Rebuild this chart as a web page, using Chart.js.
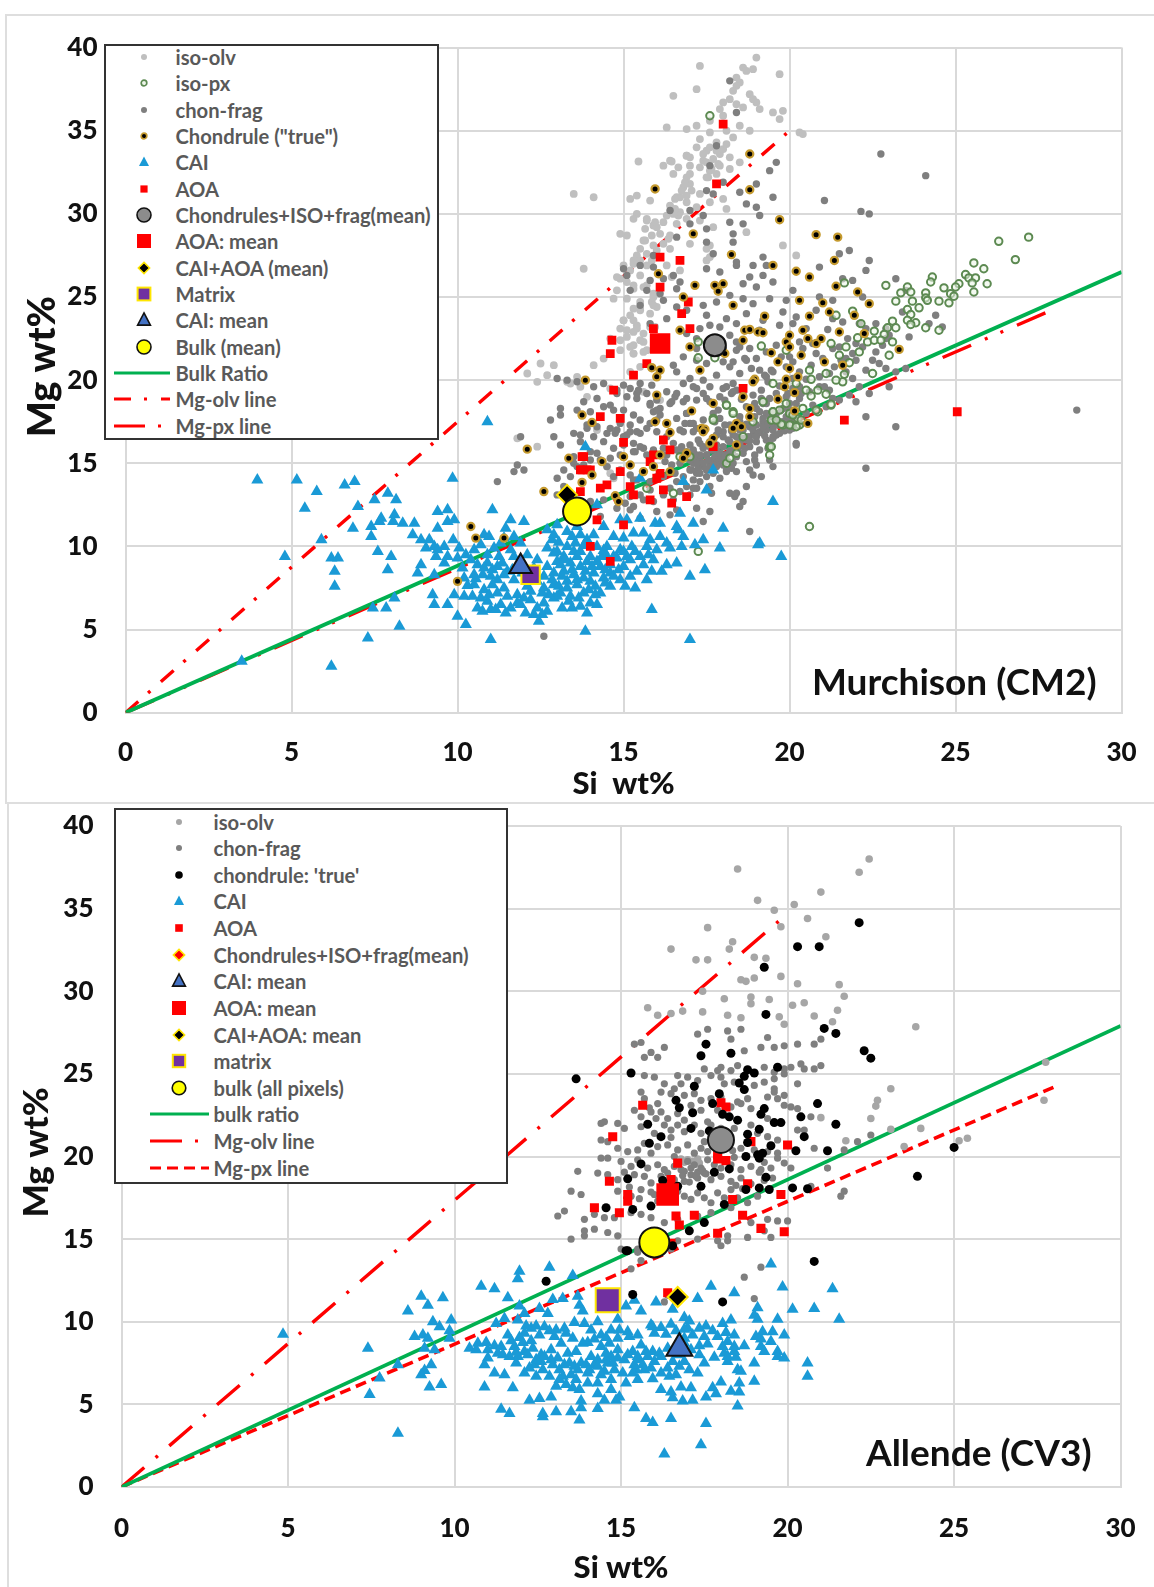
<!DOCTYPE html>
<html><head><meta charset="utf-8">
<script src="https://cdn.jsdelivr.net/npm/chart.js@4/dist/chart.umd.min.js"></script>
<style>
html,body{margin:0;padding:0;background:#fff}
#page{position:relative;width:1154px;height:1587px;overflow:hidden;filter:blur(.45px)}
canvas{position:absolute;left:0}
.frame{position:absolute;border:2.5px solid #dedede;box-sizing:border-box}
.legend{position:absolute;background:#fff;border:2.5px solid #333;box-sizing:border-box;z-index:3}
.row{position:absolute;font:700 20.2px Lato,sans-serif;color:#595959;white-space:nowrap;line-height:20px}
.legend svg{position:absolute;overflow:visible}
.note{position:absolute;font:700 37px Lato,sans-serif;color:#111;white-space:nowrap;z-index:2}
</style></head><body>
<div id="page">
<div class="frame" style="left:5px;top:14px;width:1160px;height:790px"></div>
<div class="frame" style="left:7px;top:802px;width:1160px;height:800px"></div>
<canvas id="c1" width="1154" height="803" style="top:0"></canvas>
<canvas id="c2" width="1154" height="784" style="top:803px"></canvas>
<div class="note" style="left:812px;top:658px">Murchison (CM2)</div>
<div class="note" style="left:866px;top:1429px">Allende (CV3)</div>
<div class="legend" id="l1" style="left:104px;top:44px;width:335px;height:396px"></div>
<div class="legend" id="l2" style="left:114px;top:808px;width:394px;height:376px"></div>
</div>
<script>
const xTicks=[0,5,10,15,20,25,30], yTicks=[0,5,10,15,20,25,30,35,40];

// ---- Murchison (CM2) values, flat x,y lists ----
const isoOlvTop=[19,39.4,17.3,38.9,18.6,38.8,18.9,38.7,18.7,38.6,19.7,38.4,18.4,38.2,18.5,37.9,17.2,37.5,18.4,37.7,18.3,37.4,16.5,37.1,18.8,37.2,18.9,36.9,18.2,36.9,18,36.7,18.4,36.6,18.6,36.4,19,36.7,19.1,36.3,19.5,36.1,19.8,36.2,19.7,35.7,18,35.9,17.9,36.3,17.6,35.6,17.2,35.3,16.3,35.2,16.9,35.1,18.5,35.3,18.1,35,18.8,35,20.3,34.9,20.4,34.8,17.3,34.5,17.6,34.9,17.8,34.3,18.3,34.6,18,33.9,18.1,34.2,17.5,33.8,17.2,34,17.7,33.3,17.9,33.6,18.2,33.4,17.4,33.2,16.9,33.5,16.4,33.2,17,32.9,16.2,32.9,17.6,32.6,17.9,32.9,18.2,32.7,18.5,33.1,17.5,32.2,17.8,32.4,16.5,32.4,16.9,32.2,14.1,31,15.2,30.9,15.4,31.1,13.5,31.2,16.8,31.6,17,31.8,17.3,31.2,16.6,31,16.9,30.7,16.4,30.5,17.2,30.4,17.6,30.7,18,30.9,18.1,30.3,16.7,30.1,16.3,29.9,16.9,29.7,17.3,29.6,15.4,30,15.7,29.7,15.9,29.3,16.2,29.5,16.6,29.4,17.7,29.2,18.7,28.9,19.8,28.1,20.2,27.5,15.6,28.4,15.9,28.1,16.2,28.2,15.1,28.7,16.4,28.7,17,28.2,17.6,28.1,15.4,27.5,15.7,27.6,16,27.8,16.4,27.9,15,26.9,15.3,27.2,13.8,26.7,14.9,26.1,15.2,26.6,15.5,26.3,16.3,26.9,16.7,26.6,17.5,27.2,15.1,25.9,14.8,25.4,15.3,25.5,15.7,25.7,15.9,25,15.1,24.9,15.5,24.7,14.7,24.9,16,24.4,15.5,24.2,15.8,24,15.2,23.9,15,23.6,15.4,23.3,14.9,23.1,15.3,22.9,15.6,22.8,15.8,23.2,14.6,22.5,15.1,22.6,15.3,22.1,15.6,22.3,14.9,21.8,15.3,21.6,15.7,21.8,14.1,20.9,14.4,21.3,13.7,19.6,13.3,19.9,13.4,19.8,13.6,20.2,15.2,20.5,15.5,20.8,12.1,20.4,12.5,21,12.9,20.9,12.7,20.3,12.4,19.9,13.9,19,15.6,19.3,16.1,18.8,11.8,16.5,12.4,16,14.6,19.5,14.2,17,14.5,14.8,14.6,14.4,14.7,14.1];
const isoOlvTopExtra=[15.45,33.15,16.45,33.15,16.65,32.8,16.9,33.5,17,33.4,17.4,33.6,17.6,34,17.8,33.8,17.5,33.1,17.3,32.8,17.65,32.7,17.85,33,17.55,32.2,17,32.4,16.85,31.9,16.7,31,16.55,30.9,16.9,31.1,16.75,31.4,17.05,31.4,16.55,30.3,16.65,29.9,16.5,30,15.8,30.8,15.3,29.7,15.7,29.6,15.95,29.5,16,29.2,15.65,29.1,15.85,28.7,15.65,28.4,16.1,28.8,16.35,28.5,15.5,27.9,14.9,28.8,15.5,27.2,15.85,27.2,16.45,26.2,15.7,26.9,15.3,27,14.8,26.2,15.3,25.7,15.6,25.6,15.9,25.2,15.85,24.7,15.5,24.3,15.3,24.3,15.9,24.5,15,23.6,15.3,23.6,15.1,23,15.4,23.1,14.9,22.4,15.2,22,15.5,22.4,15.3,21.6,15.6,21.7,15.95,23.2,17.5,27.9,17.6,27.4];
const isoPxTop=[27.2,28.6,26.3,28.35,26.8,27.25,25.55,27.05,25.85,26.7,25.3,26.35,25.4,26.15,25.6,26.15,25.5,25.85,25.95,25.8,25.55,25.3,24.3,26.2,24.25,25.9,25.1,25.8,25,25.6,24.65,25.55,24.85,25.2,24.95,25.05,24.5,24.75,24.8,24.65,24.1,25.25,24.1,24.95,24.15,24.8,23.55,25.6,23.35,25.25,23.65,25.3,23.7,24.75,23.2,24.75,22.9,25.7,23.9,24.35,23.55,24.25,23.65,23.95,23.55,23.6,23.8,23.45,23.65,23.35,24.1,23.15,24.5,23,23.1,23.55,22.95,23.15,23.2,23.15,22.55,22.95,22.85,22.75,22.05,22.55,22.35,22.3,22.55,22.4,22.75,22.4,23.1,22.3,22.1,21.7,23,21.5,22.5,20.4,21.65,25.85,21.4,23.9,22.15,23.4,21.9,24.15,21.25,22.2,21.7,22,21.5,21.5,21.8,21.05,21.65,20.35,21.6,19.9,21.4,20,21.1,20.4,20.6,20.6,20.65,20.05,17.6,35.9,17.25,22.3,17.25,21.35,17.75,21.35,19.15,22.05,19.9,21.8,20.5,19.4,20.85,19.4,21.1,19.15,20.65,19.05,19.5,19.8,20.2,19.8,19.2,18.7,19.5,18.1,19.7,18.2,20,18,20.25,17.7,18.3,18.1,18.1,18.5,17.7,17.7,19.8,17.3,20.05,17.3,20.3,17.3,19.45,17.6,20.85,18.1,21.25,18.5,16.5,13.2,16.7,15.4,17,15.4,18.1,15,18.2,15.3,19.4,16,19.45,16,19.4,15.5,18.3,18,17.7,17.6,18.1,18.5,19.2,18.7,19.5,18.1,19.75,17.35,20,17.3,20.2,17.2,20.35,17.6,21.25,18.55,20.8,18.2,15.7,13.5,20.6,11.2,17.25,9.7,19.9,18.6,20.1,17.9,19.6,17.6,20.4,18.3,18.9,17.5,18.6,16.6,18.4,15.6];
const chonFragTop=[16.2,13.1,16.4,13.5,16.5,12.8,16.6,13.9,16.7,13.3,16.8,14.2,16.9,13.6,17,14.6,17,13.1,17.1,14,17.1,15,17.2,13.5,17.2,14.4,17.3,15.3,17.3,13.9,17.4,14.8,17.4,16,17.5,14.2,17.5,15.5,17.6,13.6,17.6,14.9,17.6,16.3,17.7,15.2,17.7,14.4,17.8,15.8,17.8,14.8,17.8,16.7,17.9,15.4,17.9,14.1,18,16,18,15,18,16.9,18.1,15.5,18.1,14.5,18.2,16.3,18.2,17.3,18.3,15.8,18.3,15,18.4,16.6,18.4,14.5,18.5,16.1,18.5,17.5,18.6,15.6,18.6,17,18.7,16.4,18.7,15.1,18.8,17.2,18.8,16,18.9,16.7,18.9,17.7,19,16.3,19,17.3,19,18.3,19.1,16.9,19.1,15.8,19.2,17.5,19.2,18.6,19.3,17,19.3,16.4,19.4,17.8,19.4,18.9,19.5,17.2,19.5,16.5,19.6,18,19.6,19.2,19.7,17.5,19.7,16.8,19.8,18.3,19.8,17.2,19.9,17.8,19.9,19,20,17.5,20,18.6,20.1,18,20.1,19.5,20.2,17.6,19.4,15.2,19.5,14.8,18.9,14.3,18.8,14.6,18.7,13.6,18.2,13.2,17.2,12.3,17.6,12.1,16.6,12.2,18.6,12.7,18.5,12.4,17.4,11.5,18.8,10.9,20.2,16.1,23.2,17.2,22.3,17.8,22.3,14.7,28.65,18.2,23,19.6,22.75,33.6,24.1,32.3,21.05,30.8,22.15,30.15,22.4,30,17.5,26.7,17.9,26.5,18.4,26.9,18.9,26.9,19.2,26.3,18.8,26.2,18.6,25.8,19,25.6,19.5,25.9,20.1,25.4,20.9,26.8,21.5,27.6,21.8,27.8,22.4,27.2,22.3,26.6,23.2,26.1,21.6,26.1,21.9,26,22.2,25,21.3,24.8,20.9,25,19.9,24.8,19.4,24.9,18.9,24.6,18.6,24.9,18.2,25.1,17.8,24.7,17.4,24.5,16.6,24.4,16.9,24.2,17.5,23.9,18.1,23.7,18.4,23.4,18.7,24,19.2,23.6,19.8,24.1,20.2,23.8,20.8,24.2,21.3,23.7,21.6,23.5,22.1,23.4,23.5,25.4,23.4,24.1,24.4,23.9,22.9,23.1,23.6,22.6,24.2,23.4,24.6,23.2,20.5,23.1,20.1,23.4,19.7,23.3,19.1,23,18.4,22.3,18.2,22.7,17.9,23.2,17.6,23.3,17.3,23.1,17.2,22.5,16.9,22.8,16.3,23.7,15.8,23.4,15.5,24.5,16.2,24.8,15.8,26,15.5,26.9,15.1,26.3,17.9,22.2,18.4,21.8,18.8,21.9,19,21.3,19.3,21.7,19.6,22.1,20,21.4,20.4,21.9,20.8,21.6,21,21.3,21.3,21.9,21.5,22,21.7,21.3,21.9,21.6,22.2,22,22.6,21.7,22.9,22.5,23.5,20.7,18,21.1,17.8,20.3,17.5,21,17.2,21.2,16.8,21.4,16.6,20.5,17,20.1,17.4,20,17.6,19.6,17.2,19.5,16.8,19.8,16.5,20.9,16.3,19.3,16.6,19.2,16.9,18.9,17.2,18.8,17.5,18.9,18,19.5,18.3,19.8,18.5,20.4,18.2,20.8,18.7,21.2,19.1,20.6,19.3,20.2,19.5,20.5,19.9,20.8,20.3,19.6,20.6,19.3,20.9,19.6,21.2,19.4,21.3,18.9,21.1,18.4,20.7,18.5,20.3,18.9,21.5,18.8,21.8,19.1,22,18.7,22.1,19.6,22.4,19.2,15,19.7,15.2,19.5,15.5,19.8,15.7,19.2,16,18.8,16.4,18.6,16.1,18.3,15.8,18.5,15.4,18.9,15.1,19,14.8,19.2,14.4,19.8,14.1,19.6,13.6,19.9,13.3,20,13,20.1,13.1,18.3,13.8,18.7,14.2,18.9,14.4,18.4,14.7,18.2,15,18.2,15.3,17.9,15.5,17.6,15.8,17.4,16,17.6,16.6,17.7,16.9,18,17.1,17.4,17.4,17.6,17.1,16.9,16.7,17,16.3,16.6,16,16.9,15.7,17.1,15.4,16.9,15.1,16.7,14.8,17,14.5,16.8,14.2,17.2,13.9,17.1,13.5,16.8,13.7,16.3,14.1,16.6,14.4,16.3,14.7,15.9,15,16.1,15.3,15.7,15.6,15.9,16.2,15.9,16.5,16.2,16.7,15.7,14.9,15.5,14.6,15.3,14.2,15.6,14,15.2,13.8,14.9,13.5,15,14,15.7,14.3,15.2,13.6,14.8,13.2,14.6,13.4,14.2,15.8,13.4,15.2,14.3,15.4,14,15,16.6,15.2,16.9,15.5,16.8,13,14.1,13.2,13.6,13,13.1,13.2,13.3,14,12.7,13.4,12,13.7,12.4,14.4,12.8,14.8,12.3,15.2,12.2,15.5,11.7,15.3,12.4,16,12.1,16.4,11.9,15.9,12.7,14.3,11.8,11.2,13.9,12,14.6,13.5,15.4,13.1,16.1,12.9,16.6,13.7,16.7,13.9,17.3,14.6,17.1,14.9,17.4,15.2,17.3,11.7,14.5,11.8,14.9,12.6,4.6,11.9,16.6,12.8,17.6,13.1,17.9,13.6,18.2,14,18.1,18.7,30.6,19,30.4,18.5,31.3,19.5,31,19,31.8,19.4,32.6,19.6,33.1,19.1,29.9,18.6,29.4,18.2,29.5,17.5,29.1,17,30.2,16.4,30.2,17.4,29.9,18.3,28.8,17.5,28.3,18.3,28.3,17.7,27.6,19.2,27.4,19.3,26.9,18.4,27.1,15.9,26.8,16.2,26.1,16.5,26.3,16.7,25.9,16.6,25.5,16.1,25.2,15.7,25.4,15,26.7,15.2,25.4,18.2,38,18.4,36.1,17.8,34.1,17.6,32.9,18,31.9,17.7,31.2,17.5,31.4,17,29.4,16.6,28.6,15.9,27.5];
const chonFragTopBand=[16.6,15.8,16.75,16,16.9,15.7,17,16.1,17.1,15.8,17.3,16.2,17.4,15.9,17.3,15.5,17.1,15.3,17,15.2,16.85,15.3,16.7,15,17.5,15.5,17.65,15.8,17.8,16.1,17.75,15.4,17.9,15.6,18.05,15.5,17.85,15.1,18,14.9,18.15,15.1,18.25,14.7,18.1,14.6,17.4,15,17.25,14.7,17.5,14.6,17.3,14.4,17.05,14.6,17.1,13.5,18.4,15.4,18.5,16.2,18.6,16.5,18.75,16.6,18.9,17,19.05,16.8,19.2,17.2,19.35,17.4,19.5,17,19.65,17.3,19.8,17.5,19.95,17.2,19.3,18,19.1,18.1,18.95,17.8,18.5,17,18.3,16.7,18.15,16.4,18,16.6,17.85,17,17.75,17.5,17.9,17.7,18.05,17.3,17.7,18,17.85,18.2,18.05,18.8,18.25,19.2,18.4,19.4,18.6,19.2,18.95,18.6,19.15,18.9,19.3,18.6,19.5,18.1,19.75,18.2,20,18.2,20.2,18.6,20.35,19.2,16.9,18,17,17.4,16.85,17.4,17.2,17.1,16.8,16.9,15.9,18.1,16.1,17.9,16,18.2,15.8,18.6,16.45,18.7,16.55,19,16.8,18.7,15.85,19.7,15.4,19.2,15.45,19.4,14.8,19.4,14.6,18.5,14.75,16.8,15.3,16.2,15.5,16,15.35,15.7,15.7,15.5,15.9,15.8,16.3,15.5,16.25,15.1,16.45,14.9,14.5,14.8,14.7,14.2,14.9,14.6,15.3,14,15.5,13.1,15.2,13,15.05,12.6,15.6,12.8,15.8,13.9,16,14.2,16.2,14.2,18.95,15.2,19,14.9,18.95,15.5,19.15,14.2,18.4,13.2,18.35,13,17.65,13.2,20.2,16.2,19.5,16.6,19.4,16.2,19.35,15.9,18.5,17.8,20.5,18,17.2,15,17.55,15.2,17.7,14.9,17.15,15.55,16.95,15.45,17.6,16,17.25,16.4,18.2,15.75,18.45,15.9,18.65,15.9,18.8,16.35,19,16.6,19.25,16.65,19.6,16.7,19.85,16.95,20.1,17.1,20.35,17.35,19.2,17.7,19.55,17.75,18.7,17.35,18.25,16.95,20,17,17.95,15.2,16.55,14.4];
const chonFragTopCloud=[17.1,19.6,17.4,19.2,17.6,18.7,17.9,19,18.1,19.6,18.3,19.3,18.55,18.85,18.7,18.4,18.9,19.1,19.15,19.4,19.35,19.9,19.7,19.65,19.95,19.2,20.1,20.1,20.3,20.5,20.5,20.05,20.65,20.9,20.9,20.2,21.05,19.6,21.2,20.4,21.35,20.8,21.55,21.2,21.7,20.5,21.9,20.1,22,21.2,22.3,20.6,22.5,21.2,22.7,21,22.9,20.7,23.2,20.5,20.7,22.2,20.3,22.3,20.1,21.1,19.75,21.4,19.45,20.6,19.25,20.3,18.85,20.7,18.65,21.3,18.3,21.1,18,21.9,17.7,21.6,17.5,22.2,17.2,21.9,18.5,22,21.15,23.05,21.75,22.5,22,22.2,22.3,23.1,22.6,23.4,22.8,22.1,23,22.7];
const chondruleTop=[18.8,33.6,15.95,31.5,18.8,31.45,19.7,29.65,17.1,28.8,20.8,28.75,21.45,28.6,18.25,27.55,19.5,26.9,21.35,27.2,20.2,26.55,16.05,26.4,20.6,26.2,17.15,25.7,17.75,25.7,18,25.8,17.85,25.35,21.4,25.65,22.05,25.3,16.8,25,18.3,24.5,20.3,24.8,21,24.65,22.4,24.6,16.7,23,21.2,24.1,20.6,23.85,19.25,23.85,21.95,23.9,18.65,23,18.8,23.05,19.05,22.9,19.2,22.85,20,22.7,20.4,23,21.5,22.9,18.6,22.4,19.9,22.3,20.55,22.5,20.95,22.5,20.8,22.2,22.25,22.8,17,22,18.05,21.6,20,22,20.35,21.5,19.45,21.65,23.3,21.85,15.85,20.75,16.1,20.6,16,20.2,17.3,20.6,19.65,21.1,21.05,21.1,21.6,20.9,20,20.7,13.85,20,18.95,20.05,18.9,19.9,20.25,20.2,19.9,20.05,19.85,19.6,20.15,19.25,16,19.1,18.6,19,19.65,18.85,17.7,18.6,20.15,18.15,17.05,18.15,13.75,17.9,14.05,17.45,15.95,17.5,16.3,17.4,18.8,18.3,18.8,17.8,17.35,17.1,17.45,17.05,16.4,16.85,18.4,17.4,18.55,17.2,20.55,17.4,12.1,15.85,13.35,15.3,14.35,15.1,15,15.4,15.2,14.9,14.05,14.3,13.75,13.85,15.6,14.5,15.9,14.8,16.1,15.5,16.4,14.5,12.6,13.3,14.75,13.05,10.4,11.2,10.55,10.5,11.4,10.5,14.85,12.7,10,7.9,17.7,16.5,17.4,16.9,17.6,16.2,18.3,17.1,18.4,16.1,16.9,15.6,16.8,15.3];
const caiTop=[3.97,14,5.16,14,5.76,13.3,6.6,13.7,6.9,13.9,9.85,14.1,5.4,12.3,7,12.4,7.5,12.8,7.9,13.2,8.15,12.8,5.9,10.4,6.85,11.1,7.4,11.2,7.4,10.6,7.7,11.7,8.1,11.9,7.65,11.5,8.06,11.5,8.35,11.4,8.7,11.4,8.65,10.7,8.9,10.4,4.8,9.4,6.2,9.3,6.4,9.3,6.3,8.5,6.3,7.6,6.2,2.8,7.3,4.5,8.25,5.2,3.5,3.1,7.45,6.3,7.85,6.3,8.1,6.9,7.6,9.7,8,9.4,7.9,8.6,8.9,8.9,8.8,8.4,9.3,8.3,9.4,11.1,9.4,12.1,9.7,12.2,9.7,11.5,9.9,11.6,11.05,12.2,9.05,9.9,9.3,10,9.6,10,9.87,10.4,10.05,9.9,9.35,9.4,9.7,9.4,10,9.3,10.25,9.5,10.5,9.8,10.4,9.2,10.15,8.7,10.2,8.1,10.5,8.3,10.76,8.3,11,8.2,11.05,7.7,11.2,8,10.8,10.7,10.95,10.6,11.45,11.1,11.6,11.6,12,11.5,11.4,10.5,11.7,10.6,11.9,10.2,11.1,9.9,11.25,9.4,11.6,9.8,11.7,9.4,12.85,10.4,12.7,11,13,11.3,13.3,10.9,13.3,10,13.55,10.2,13.5,9.7,13.2,9.4,13.6,9.4,13.9,10.4,13.1,8.9,13.4,9,13.7,8.8,14,9.4,14.2,10,14.5,10,14.4,11.2,14.9,11.6,15.1,11.6,15.5,11.7,15.95,11.4,16.1,11.4,17.1,11.4,18,11.1,16.65,11,16.8,10.6,17.4,10.4,17.15,10.1,17.9,9.9,16.75,10,16.4,9.9,16,9.8,15.7,10,15.25,10,16.3,8.9,16.6,9,17.45,8.6,17,8.2,15.7,8,15.4,8.5,14.9,8,14.6,7.6,14.3,7.2,14,6.6,13.7,6.4,13.15,6.3,12.6,6.6,12.3,5.9,12.45,5.5,11.45,6,11,6.2,10.6,6.3,10.25,5.3,10,5.8,9.7,6.5,9.3,6.5,9.25,7.1,9.9,7.1,10.2,7,10.45,7,13.85,4.9,11,4.4,17,4.4,15.85,6.2,19.05,10.1,13.85,16,15.5,14.1,16.8,13.9,17.5,13.4,17.7,14.6,16.7,12,14.2,12.5,19.5,12.7,19.1,10.2,19.75,9.4,10.9,17.5,12.9,9.6,13,9.1,12.7,8.8,12.9,8.4,13.2,8.5,13.5,8.3,13.8,8.1,14.1,8.4,14.3,8.8,14.6,8.9,14.8,9.3,14.9,9.8,14.5,9.4,14.2,9.1,13.7,9.7,13.9,9.1,13.3,7.9,13.6,7.7,14,7.9,14.4,8.1,14.6,8.4,15,8.8,15.2,9.2,15.5,9.4,15.9,9.2,15.6,8.9,12.4,7.9,12.6,7.5,12.9,7.7,13.1,7.2,13.4,7,13.8,7.2,14.2,6.5,12.9,6.9,12.1,7.6,11.8,7.1,11.5,7,11.3,6.5,11.6,6.3,11.9,6.5,12.2,6.8,12.4,6.3,12.7,6.1,10.9,6.7,10.7,6.9,10.8,7.4,10.5,7.7,11.4,7.5,11.7,8,11.5,8.5,11.2,8.8,10.9,9,10.6,8.9,12.7,9.9,12.4,9.2,12.1,9.5,11.3,10.2,10.7,10.1,10.9,9.5,9.6,9,9.4,9.8,9.15,10.4,15,10.5,15.1,9.4,15.8,10.4,16.1,10.6,16.3,10.2,15.6,10.8,15.3,10.8,16.6,11.2,14.7,10.6,14.7,9.4,14.1,10.7,13.6,11.2,13.7,10.7];
const caiTopExtra=[13,9.7,13.25,9.2,13.45,8.6,13.15,8.2,13.6,8,13.85,8.5,14.05,8.8,14.35,9.4,14.45,8.6,14.7,8.2,14.85,8.6,14.45,7.8,14.15,7.6,13.95,7.4,13.65,6.9,13.35,6.7,13,7,12.75,7.1,12.55,7.2,12.85,8,13.05,7.6,13.3,7.5,12.6,8.2,12.2,7.3,12,6.9,11.8,6.6,11.2,7.2,10.95,7.1,11.15,6.2,10.75,6.1,12.05,6,12.55,5.9,13.45,6.3,13.9,6,14.15,7.1,15.05,7.6,15.2,8.2,15.85,8.5,16.15,8.5,15.35,7.5,15,9.7,15.35,9.7,15.75,9.5,14.4,9.75,13.8,10.05,13.05,10.25,12.9,10.7,13.45,10.6,11.35,9,11.05,8.6,10.8,8.7,10.55,8.05,10.3,7.65,12.3,8.7,12.15,8.2,11.95,8.4,11.65,8.6,11.4,8.3];
const aoaTop=[18,35.4,17.8,31.8,14.65,22.4,14.6,21.6,16.1,27.4,16.7,27.2,16.1,25.6,16.95,24.7,16.75,24,17,23.1,15.7,21,15.3,20.3,14.7,19.4,18.6,19.5,14.3,17.8,14.9,17.7,21.65,17.6,25.05,18.1,15,16.26,16.2,16.4,16.4,15.8,17.7,16,13.8,15.4,13.7,14.6,14,14.6,13.7,13.3,14.5,13.7,14.9,14.5,15.2,13.6,15.8,15.1,16.1,14.4,16.2,13.4,16.9,13,15,11.3,14,10,16.45,12.6,13.75,14.6,13.9,14.6,13.75,15.4,14.3,13.5,15.9,15.5,16,14.1,15.8,12.8,14.2,11.6,14.6,9.1,15.3,13.1,15.9,23.1];
const lineXTop=[0,30], bulkYTop=[0,26.5];
const olvXTop=[0,20], olvYTop=[0,35];
const pxXTop=[0,28], pxYTop=[0,24.3];
const meanChonTop=[17.75,22.1], meanAoaTop=[16.1,22.2], meanCaiAoaTop=[13.3,13.1], matrixTop=[12.2,8.3], meanCaiTop=[11.9,8.8], bulkTop=[13.6,12.1];

// ---- Allende (CV3) values, flat x,y lists ----
const isoOlvBot=[22.45,38,22.15,37.2,18.5,37.4,21,36,20.2,35.25,19.1,35.5,19.6,34.9,20.6,34.4,19.8,33.9,17.6,33.85,18.35,33,21.15,33.3,16.5,32.55,18.25,32.55,17.25,31.9,17.6,31.9,19,32.05,19.35,32,19.8,30.9,19,30.8,18.6,30.7,18.75,30.6,20.3,30.45,21.55,30.4,21.7,29.7,20.5,29.3,20.15,29.15,19.45,29.5,18.9,29.65,18.9,29.25,18.1,29.55,17.45,30,21.5,28.85,15.8,29,16.1,28.55,16.5,28.65,16.85,28.8,17.45,28.75,18.2,28.55,18.6,28.4,19.75,28.45,19.9,28,20.8,28.5,21.35,28.15,23.85,27.85,23.1,24.1,22.65,23.05,22.5,22.3,23.1,21.65,24,21.7,23.5,20.6,25.4,21.1,21.75,20.95,21,22.35,27.75,25.7,27.7,23.4,22.7,23.4,25.15,20.95,17,19.8,17.15,19.7,16.9,19.65,17.3,19.85,16.8,19.85,17.2,19.55,17.35,19.6];
const chonFragBot=[17.3,27.4,17.6,27.7,18.2,27.6,18.3,27.1,18.6,27.7,19.4,27.2,19.9,26.7,20.3,26.8,20.8,26.8,21,27.1,19.2,26.6,19.6,26.6,18.7,26.4,15.4,26.8,15.6,26.9,15.9,26.3,16.3,26.6,16.1,26,15.7,26,17.5,25.3,17.9,25.2,18,25.4,18.3,25.2,18.5,25.5,19.3,25.4,19.9,25.3,20.1,25.4,20.4,25.6,20.5,25.3,20.8,25.3,21,25.5,19.6,25.1,19.9,25,15.7,24.9,16,24.8,16.3,24.4,16.6,24.1,16.8,24.4,16.7,24.9,17,24.8,17.3,24.6,17.7,24.9,18,24.8,18.1,24.4,18.4,24.5,19,24.3,19.3,24.5,19.6,24.7,19.6,24.1,20.3,24.4,19.6,23.9,19.4,23.6,19.7,23.5,19.9,23.7,18.8,23.5,18.5,23.3,18,23.6,17.7,23.5,17.4,23.4,17.2,23.8,16.9,23.7,16.5,23.8,16.2,23.9,16.1,23.2,15.7,23.5,15.4,22.8,15.6,22.4,15.9,22.7,16.2,22.7,16.4,22.3,16.7,22.6,16.9,22.2,17.1,23.1,17.4,22.8,17.6,22.1,17.9,22.8,18.3,23,18.6,23.2,18.9,22.9,19.4,22.3,19.9,23.1,20.1,23,20.3,22.9,20.7,22.4,14.4,22,14.5,22.1,14.9,22,15.1,21.7,15.6,21.8,16,21.4,16.3,21.9,16.5,21.6,16.7,21.9,16.9,21.5,17.2,21.9,17.4,21.4,17.7,21.9,18,21.7,18.4,21.7,18.9,21.9,19.1,21.4,19.4,21.2,19.7,21,20.3,21.6,20.5,21.6,14.6,20.9,14.4,21,14.9,20.5,15.2,20.3,15.5,20.4,15.7,20.8,15.9,20.2,16.1,20.6,16.4,20.7,16.7,20.4,17,20.7,17.2,20.2,17.4,20.5,17.6,20.3,17.9,20.7,18.2,20.7,18.6,20.5,19,20.4,19.4,20.3,19.7,19.9,19.9,19.6,20.1,19.3,14.6,19.9,14.4,19.9,15,19.7,15.3,19.4,15.5,19.8,15.8,19.3,16.1,19.5,16.3,19.2,16.6,19.4,16.9,19.1,17,19.7,17.2,19.5,17.4,19.3,17.6,19.8,17.8,19.5,18,19.3,18.3,19.5,18.6,19.2,18.9,19.4,19.2,19.2,19.5,19.3,13.7,19.1,14.3,19,14.6,18.9,14.9,18.6,15.4,18.9,15.7,18.8,15.9,18.4,16.2,18.8,16.4,19,16.6,18.6,16.9,18.5,17.1,18.9,17.3,18.7,17.5,19,17.7,18.6,18,18.8,18.3,18.5,18.6,18.7,14.9,17.9,15.3,17.6,15.6,18,16,17.7,16.1,17.3,16.4,17.6,16.7,17.9,16.9,17.6,17.1,17.4,17.3,17.8,17.5,17.5,17.7,17.2,17.9,17.8,18.1,17.5,18.3,18,18.5,17.5,18.8,17.2,19.1,17.6,13.5,17.9,13.8,17.7,13.3,16.7,13.1,16.4,13.9,16.2,13.9,15.5,14.2,16.5,14.5,16.3,14.8,16.3,15.3,16.6,15.6,16.5,15.9,16.3,16.3,16,16.7,16.2,17.3,16.4,17.7,16.6,18.3,16.9,18.9,16,19.4,16.2,19.7,16.1,13.5,15,13.9,15.2,14.2,15.6,14.6,15.4,14.9,15.2,15,14.4,15.5,14.2,16,14.7,16.1,14.2,16.5,14.4,16.7,14.9,17.3,15,17.9,14.9,18.2,15.2,18.8,15.1,19.3,15.5,19.5,15.1,20,16.1,20.8,20.5,21.2,19.3,22.1,20.9,22.5,21.3,18,14.6,18.2,14.9,15.3,13.2,15.6,13.7,15.5,14.4,18.7,12.7,19.2,13.3,19,11.4,16.3,11.2,16.4,11.6,21.7,20.4,21.6,17.6,21.7,17.9,20.7,18.2,16.6,20,16.8,19.2,17.1,19.3,17.3,19.05,17.45,19.15,17.55,18.95,17.25,18.8,17.05,18.45,16.85,18.85,16.45,18.3,16.25,18.15,15.9,17.85,15.1,19.05,15.25,18.15,15.55,17.45,18.45,18.25,18.65,18.05,18.9,18.35,19.3,18.55,19.55,18.7,19.3,19.65,19.7,20.2,19.15,19.05,18.4,19.95,18.35,20.35,17.5,20.9,16.5,21.15,16.05,22.3,15.85,22.95,15.6,23.9];
const chondruleBot=[22.15,34.15,20.3,32.7,20.95,32.7,19.3,31.45,19.35,28.6,21.1,27.75,21.45,27.45,22.3,26.4,22.5,25.95,17.55,26.8,18.3,26.25,17.4,26.1,19.7,25.4,18.8,25.25,19,25.05,18.7,24.85,18.55,24.45,18.7,24.05,13.65,24.7,15.3,25.05,17.2,24.25,17.95,23.8,16.65,23.4,16.75,22.95,17.75,23.2,17.15,22.65,20.9,23.2,19.3,22.9,19.2,22.55,18.25,22.4,18.05,22.55,18.5,22.2,20.4,22.4,19.6,22.05,19.8,22.05,21.45,21.95,15.8,21.95,17.1,21.7,19.15,21.65,17.65,21.55,18.8,21.35,16.2,21.2,20.5,21.2,15.85,20.8,18.8,20.85,19.5,20.65,20.25,20.35,21.2,20.35,19.25,20.2,19.1,20.1,18.75,20,19.15,19.9,15.6,19.55,17.8,19.05,18.25,19.25,25,20.55,23.9,18.8,15.2,18.65,16.25,18.55,19.35,18.75,17.4,18.2,18.75,18,19.15,18.1,19.45,18,20.15,18.1,20.6,18.05,16.7,18.2,14.55,16.9,15.35,16.8,15.9,17,18.1,17.1,17.5,16,17.05,15.5,16.55,14.6,15.2,14.3,20.8,13.65,12.75,12.45,15.35,11.65,18.05,11.2,15.15,14.3];
const caiBot=[4.85,9.25,7.4,8.4,7.45,5.6,7.75,6.6,8.3,7.4,8.3,3.25,8.6,10.65,9,11.55,9.2,11,9.65,11.45,9.9,10.1,9.35,10,9.55,9.7,8.8,9.1,9.05,9.2,9.2,9,9.85,9.45,9.85,9,9.1,8.4,9.4,8.3,9.3,7.4,9.1,7.05,9,6.8,9.25,6.05,9.6,6.2,10.45,8.4,10.65,8.3,10.7,8.7,10.95,8.75,10.8,12.15,11.2,12,11.6,11.45,11.95,13.05,11.9,12.6,12.85,13.3,13.55,12.8,11.95,10.95,11.25,9.9,11.5,10.2,11.9,10.1,12.1,10.5,12.55,10.8,12.8,10.5,12.95,11.35,13.25,11.4,13.7,11.55,13.75,11,13.85,10.65,12.3,9.6,12.7,9.7,12.85,9.45,12.55,9.2,11.6,9.2,11.7,8.85,11.2,8.55,11.4,8.5,11.8,8.5,12.05,8.75,12.3,8.85,12.35,8.4,12.6,8,12.9,8.3,13.2,8.7,13.1,7.8,13.4,8.1,13.65,8.2,14,8.75,14.4,9.2,14.65,8.7,14.9,9,14.4,8.5,14.1,7.9,14.3,7.7,14.7,7.9,15.2,8,15.6,8.6,15.95,8.2,16.15,8.1,16.35,9.25,16.65,9.45,17.15,9.2,17.6,8.65,18.05,8.5,18.4,9.2,19.2,8.95,19.5,8.8,19.9,9.2,19.7,10.15,20.15,10.75,20.8,10.8,21.35,12,21.55,10.15,20.6,7.5,20.6,6.7,19.85,12.1,19.5,13.5,18.4,11.75,17.7,12.15,17.3,11.4,19.1,10.85,19,10.4,18.3,10.1,18.05,9.9,17.55,9.75,17.05,10.05,16.9,10.25,16.55,10.75,16.05,11.2,15.4,11.3,15.6,10.65,14.9,10.15,14.3,10,13.6,9.95,15.15,10.95,18.5,4.9,17.55,3.85,17.4,2.55,16.3,2,16.5,4.15,15.95,3.9,15.75,4.15,15.4,4.8,14.3,4.75,13.75,4.05,13.5,4.55,13.05,4.55,12.65,4.45,12.65,4.25,11.65,4.45,11.4,4.7,12.25,5.25,12.55,5.35,12.9,5.45,13.8,5.2,13.8,4.8,14.5,5.25,14.85,5.25,14.95,5.45,16.55,5.4,16.85,5.2,17.15,5.25,17.55,5.45,17.85,5.65,18.3,5.8,18.55,5.75,19,6.4,18.55,6.3,18.5,7.1,19,7.5,18.2,7.6,18,6.35,17.75,6,17.1,6,16.8,6.05,16.5,5.75,16.2,5.9,15.95,6.55,15.5,6.5,15.15,6.3,14.7,5.9,14.3,5.65,13.75,5.9,13.35,6.2,13.05,6.1,11.75,6,10.9,6.05,11.2,6.9,11.5,6.8,10.9,7.4,12.1,6.9,12.45,6.7,12.85,6.7,13.25,6.7,13.7,7.1,14,6.9,14.5,7,14.8,7.1,15.45,7.1,15.65,7.4,16.4,7.2,16.65,6.8,17.05,7.1,17.3,6.9,17.5,7.5,17.35,8,11.9,7.9,12.1,8.2,11.85,7.5,12.4,7.4,12.6,7.6,12.9,7.7,13.3,7.4,13.5,6.8,13.8,7.5,14.2,7.4,14.4,6.8,14.6,7.5,14.9,7.8,15.5,7.7,15.8,7.9,16.4,8.4,16.7,8,16.9,7.6,17.1,8.3,17.9,9.1,18.1,8.1,18.4,8.5,18.2,8.8,16,9.3,15.9,9.8,15.2,9.4,14.7,9.5,14.1,9.5,13.9,9.9,13.3,9.6,13,9.1,12.1,9.3,11.3,8.1,11,8.3,19.3,8.2,19.7,8.2,19.9,7.8,19.7,7.9,19.2,8.5,18.2,7.9,18.6,7,16.9,9,17,9.6,17.5,9.1,18.4,8.2];
const caiBotExtra=[12.2,8,12.45,7.7,12.7,7.9,12.95,7.4,13.15,7.1,13.45,7.5,13.6,7.3,13.95,7.4,14.05,7.1,14.3,7.3,14.55,7.7,14.75,7.5,14.55,8.1,14.9,8.3,15.1,7.7,15.35,8.2,15.5,7.9,15.75,8.2,15.4,7.4,15.7,7.1,16,7.6,16.2,7.9,16.55,7.6,16.75,7.3,16.45,6.7,16.2,6.9,15.9,7.2,15.35,6.9,15.05,6.9,14.7,6.5,14.3,6.3,14,6.3,13.65,6.5,13.15,6.5,13.55,6,12.65,7.1,12.25,7.2,11.65,7.9,11.45,8,11,7.8,11.85,8.15,11.95,9.05,12.15,9.75,12.45,9.75,13.05,9.5,13.35,9.3,13.55,9,13.85,8.7,14.2,8.95,14.55,9.05,14.95,9.5,15.25,9.1,15.5,9.2,15.95,9.7,16.2,9.65,16.5,9.85,16.9,9.55,17.35,9.6,17.75,9.45,18.15,9.35,16.9,8.7,17.35,8.55,17.8,7.85,18.45,7.85,18.7,8.55,19.55,9.4,19.25,9.4,19.1,10.15,19.05,9.1];
const aoaBot=[15.65,23.1,14.75,21.2,18,23.25,18.15,23,18.9,20.9,20,20.7,16.7,19.6,17.9,19.85,18.15,19.75,17.9,20.1,14.65,18.5,16.5,18.6,18.8,18.35,15.2,17.7,15.2,17.3,14.2,16.9,14.95,16.6,19.8,17.7,18.35,17.4,16.65,16.4,17.2,16.45,18.65,16.45,16.75,15.85,19.2,15.65,17.9,15.35,19.9,15.45,16.5,14.75,16.4,11.75];
const bulkYBot=[0,27.9], lineXBot=[0,30];
const olvXBot=[0,20], olvYBot=[0,34.7];
const pxXBot=[0,28], pxYBot=[0,24.2];
const meanChonBot=[18,21], meanAoaBot=[16.4,17.7], meanCaiAoaBot=[16.7,11.5], matrixBot=[14.6,11.3], meanCaiBot=[16.75,8.4], bulkBot=[16,14.8];

// ---- legend labels ----
const labelsTop=['iso-olv','iso-px','chon-frag','Chondrule ("true")','CAI','AOA','Chondrules+ISO+frag(mean)','AOA: mean','CAI+AOA (mean)','Matrix','CAI: mean','Bulk (mean)','Bulk Ratio','Mg-olv line','Mg-px line'];
const labelsBot=['iso-olv','chon-frag',"chondrule: 'true'",'CAI','AOA','Chondrules+ISO+frag(mean)','CAI: mean','AOA: mean','CAI+AOA: mean','matrix','bulk (all pixels)','bulk ratio','Mg-olv line','Mg-px line'];

const pairs=a=>{const o=[];for(let i=0;i<a.length;i+=2)o.push({x:a[i],y:a[i+1]});return o;};
const zip=(xs,ys)=>xs.map((x,i)=>({x,y:ys[i]}));
const pointSet=(label,data,style,r,fill,stroke,bw)=>({label,data:pairs(data),pointStyle:style,pointRadius:r,backgroundColor:fill,borderColor:stroke,borderWidth:bw,showLine:false});
const lineSet=(label,data,color,w,dash)=>({label,data,showLine:true,pointRadius:0,borderColor:color,backgroundColor:color,borderWidth:w,borderDash:dash});

const FONT='Lato, sans-serif';
function makeChart(id,geo,datasets){
  new Chart(document.getElementById(id),{type:'scatter',
    data:{datasets:datasets.slice().reverse()},
    options:{responsive:false,animation:false,events:[],
      layout:{padding:{left:0,top:geo.y40,right:1154-geo.x30,bottom:0}},
      plugins:{legend:{display:false},tooltip:{enabled:false}},
      scales:{
        x:{type:'linear',min:0,max:30,afterBuildTicks(s){s.ticks=xTicks.map(v=>({value:v}));},
          afterFit(s){s.height=geo.h-geo.y0;s.paddingLeft=0;s.paddingRight=0;},
          grid:{color:'#d9d9d9',lineWidth:2,drawTicks:false},border:{color:'#d9d9d9',width:2},
          ticks:{color:'#111',padding:geo.xPad,autoSkip:false,maxRotation:0,font:{family:FONT,weight:'900',size:26}},
          title:{display:true,text:geo.xTitle,color:'#111',padding:{top:geo.xTitlePad,bottom:0},font:{family:FONT,weight:'900',size:31}}},
        y:{type:'linear',min:0,max:40,afterBuildTicks(s){s.ticks=yTicks.map(v=>({value:v}));},
          afterFit(s){s.width=geo.x0;s.paddingTop=0;s.paddingBottom=0;},
          grid:{color:'#d9d9d9',lineWidth:2,drawTicks:false},border:{color:'#d9d9d9',width:2},
          ticks:{color:'#111',padding:28,autoSkip:false,font:{family:FONT,weight:'900',size:26}},
          title:{display:true,text:geo.yTitle,color:'#111',padding:{top:geo.yTitleTop,bottom:0},font:{family:FONT,weight:'900',size:geo.yTitleSize}}}
      }}});
}

const GRAYL='#bfbfbf',GRAY='#7f7f7f',BLUE='#1a9ad6',RED='#ff0000',GREEN='#00b050';
const topSets=[
 lineSet('Mg-px line',zip(pxXTop,pxYTop),RED,3.4,[31,15,3,14,3,15]),
 lineSet('Mg-olv line',zip(olvXTop,olvYTop),RED,3.4,[17,13,3,14]),
 lineSet('Bulk Ratio',zip(lineXTop,bulkYTop),GREEN,3.8,[]),
 pointSet('iso-olv',isoOlvTop.concat(isoOlvTopExtra),'circle',3.9,GRAYL,GRAYL,0),
 pointSet('chon-frag',chonFragTop.concat(chonFragTopBand,chonFragTopCloud),'circle',3.7,GRAY,GRAY,0),
 pointSet('iso-px',isoPxTop,'circle',3.7,'rgba(235,245,230,.55)','#5d8a52',2),
 pointSet('CAI',caiTop.concat(caiTopExtra),'triangle',7,BLUE,BLUE,0),
 pointSet('AOA',aoaTop,'rect',6.2,RED,RED,0),
 pointSet('Chondrule ("true")',chondruleTop,'circle',3.6,'#000','#c59a2e',2.2),
 pointSet('Chondrules+ISO+frag(mean)',meanChonTop,'circle',11,'#8c8c8c','#111',2),
 pointSet('AOA: mean',meanAoaTop,'rect',14.5,RED,RED,0),
 pointSet('Matrix',matrixTop,'rect',13,'#7030a0','#ffe600',2),
 pointSet('CAI: mean',meanCaiTop,'triangle',13,'#4472c4','#111',2),
 pointSet('CAI+AOA (mean)',meanCaiAoaTop,'rectRot',10,'#000','#ffe600',2),
 pointSet('Bulk (mean)',bulkTop,'circle',14,'#ffff00','#111',2),
];
const botSets=[
 lineSet('Mg-px line',zip(pxXBot,pxYBot),RED,3.6,[11,6]),
 lineSet('Mg-olv line',zip(olvXBot,olvYBot),RED,3.4,[30,15,3,15]),
 lineSet('bulk ratio',zip(lineXBot,bulkYBot),GREEN,3.8,[]),
 pointSet('iso-olv',isoOlvBot,'circle',3.8,'#a6a6a6','#a6a6a6',0),
 pointSet('chon-frag',chonFragBot,'circle',3.6,GRAY,GRAY,0),
 pointSet('CAI',caiBot.concat(caiBotExtra),'triangle',7,BLUE,BLUE,0),
 pointSet('AOA',aoaBot,'rect',6.4,RED,RED,0),
 pointSet("chondrule: 'true'",chondruleBot,'circle',4.5,'#000','#000',0),
 pointSet('Chondrules+ISO+frag(mean)',meanChonBot,'circle',13,'#8c8c8c','#111',2),
 pointSet('AOA: mean',meanAoaBot,'rect',16,RED,RED,0),
 pointSet('matrix',matrixBot,'rect',17,'#7030a0','#ffe600',2),
 pointSet('CAI: mean',meanCaiBot,'triangle',15,'#4472c4','#111',2),
 pointSet('CAI+AOA: mean',meanCaiAoaBot,'rectRot',10,'#000','#ffe600',2),
 pointSet('bulk (all pixels)',bulkBot,'circle',15,'#ffff00','#111',2),
];
makeChart('c1',{x0:125.5,x30:1121.6,y40:47.6,y0:712.7,h:803,xPad:24,xTitlePad:0,xTitle:'Si  wt%',yTitle:'   Mg wt%',yTitleTop:20,yTitleSize:38},topSets);
makeChart('c2',{x0:121.5,x30:1120.6,y40:23,y0:684,h:784,xPad:26,xTitlePad:6,xTitle:'Si wt%',yTitle:' Mg wt%',yTitleTop:16,yTitleSize:35},botSets);

// ---- legends, built as real text from the label arrays ----
const NS='http://www.w3.org/2000/svg';
const swatches={circle:(c,r,f,s,w)=>`<circle cx="${c}" cy="0" r="${r}" fill="${f}" stroke="${s}" stroke-width="${w}"/>`,
 rect:(c,r,f,s,w)=>`<rect x="${c-r}" y="${-r}" width="${2*r}" height="${2*r}" fill="${f}" stroke="${s}" stroke-width="${w}"/>`,
 tri:(c,r,f,s,w)=>`<path d="M${c} ${-r*1.1}L${c+r} ${r*.8}L${c-r} ${r*.8}Z" fill="${f}" stroke="${s}" stroke-width="${w}"/>`,
 dia:(c,r,f,s,w)=>`<path d="M${c} ${-r}L${c+r} 0L${c} ${r}L${c-r} 0Z" fill="${f}" stroke="${s}" stroke-width="${w}"/>`,
 line:(x1,x2,col,dash)=>`<line x1="${x1}" x2="${x2}" y1="0" y2="0" stroke="${col}" stroke-width="3.2" stroke-dasharray="${dash}"/>`};
function legend(id,labels,sw,cfg){
  const box=document.getElementById(id);
  labels.forEach((t,i)=>{
    const y=cfg.y0+i*cfg.dy;
    const d=document.createElement('div');d.className='row';d.textContent=t;
    d.style.left=cfg.tx+'px';d.style.top=(y-10)+'px';box.appendChild(d);
    const g=document.createElementNS(NS,'svg');g.setAttribute('width','10');g.setAttribute('height','10');
    g.style.left='0';g.style.top=y+'px';g.innerHTML=sw[i];box.appendChild(g);
  });
}
const c1=38, c2=63;
legend('l1',labelsTop,[
 swatches.circle(c1,3,GRAYL,GRAYL,0),swatches.circle(c1,2.8,'#eef5ea','#5d8a52',1.7),swatches.circle(c1,3,GRAY,GRAY,0),swatches.circle(c1,2.8,'#000','#c59a2e',1.7),
 swatches.tri(c1,5,BLUE,BLUE,0),swatches.rect(c1,3.6,RED,RED,0),swatches.circle(c1,7,'#8c8c8c','#111',1.6),swatches.rect(c1,7,RED,RED,0),
 swatches.dia(c1,5.6,'#000','#ffe600',1.6),swatches.rect(c1,6.4,'#7030a0','#ffe600',2),swatches.tri(c1,6.4,'#4472c4','#111',1.6),swatches.circle(c1,7,'#ffff00','#111',1.6),
 swatches.line(8,64,GREEN,''),swatches.line(8,64,RED,'17 13 3 14'),swatches.line(8,64,RED,'31 13 3 30')],
 {y0:11,dy:26.33,tx:69.5});
legend('l2',labelsBot,[
 swatches.circle(c2,3,'#a6a6a6','#a6a6a6',0),swatches.circle(c2,3,GRAY,GRAY,0),swatches.circle(c2,3.8,'#000','#000',0),
 swatches.tri(c2,5,BLUE,BLUE,0),swatches.rect(c2,3.8,RED,RED,0),swatches.dia(c2,5.6,RED,'#ffe600',1.6),swatches.tri(c2,6.4,'#4472c4','#111',1.6),swatches.rect(c2,7,RED,RED,0),
 swatches.dia(c2,5.6,'#000','#ffe600',1.6),swatches.rect(c2,6.2,'#7030a0','#ffe600',2),swatches.circle(c2,6.8,'#ffff00','#111',1.6),
 swatches.line(34,93,GREEN,''),swatches.line(34,93,RED,'32 13 3 20'),swatches.line(34,93,RED,'11 6')],
 {y0:11.5,dy:26.63,tx:97.5});
</script>
</body></html>
